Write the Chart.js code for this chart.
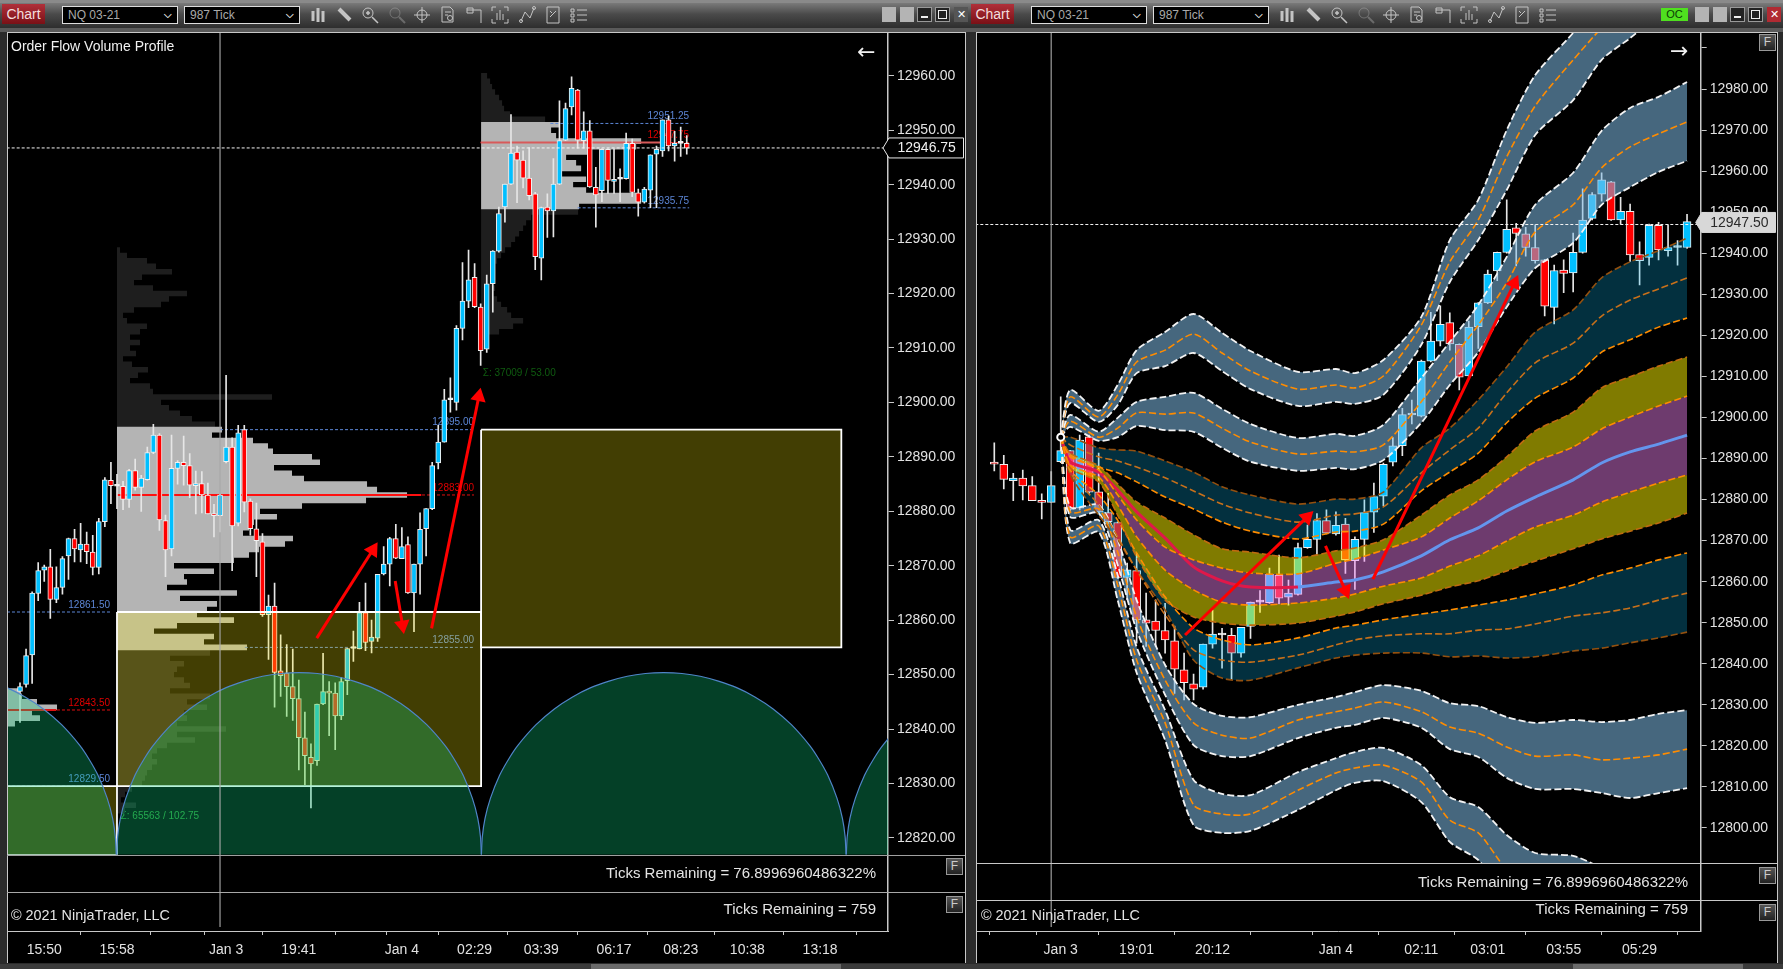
<!DOCTYPE html>
<html>
<head>
<meta charset="utf-8">
<title>Order Flow Volume Profile</title>
<script src="https://cdn.jsdelivr.net/npm/chart.js@4/dist/chart.umd.min.js"></script>
<style>
  html, body { margin: 0; padding: 0; background: #2a2a2a; width: 1783px; height: 969px; overflow: hidden; }
  body, div { font-family: "Liberation Sans", Arial, sans-serif; }
  .abs { position: absolute; white-space: nowrap; }
  .bar { position: absolute; left: 0; right: 0; top: 3px; height: 25px; background: linear-gradient(#7a7a7a, #4a4a4a 45%, #2e2e2e); }
  .panel { position: absolute; background: #000; }
  canvas { position: absolute; display: block; }
  .chartBtn { background: linear-gradient(#b0303a, #7a1016); color: #f2dede; font-size: 14px; line-height: 20px; text-align: center; }
  .drop { background: #000; border: 1px solid #ddd; color: #aaa; font-size: 12px; line-height: 16px; padding-left: 5px; box-sizing: border-box; height: 18px; }
  .drop b { position: absolute; right: 5px; top: 0; color: #ddd; font-size: 10px; }
  .fbtn { width: 15px; height: 15px; border: 1px solid #999; background: linear-gradient(#555, #222); color: #ccc; font-size: 12px; line-height: 15px; text-align: center; }
  .line { background: #c8c8c8; }
  .subText { color: #e4e4e4; font-size: 15px; line-height: 16px; }
  .copyText { color: #e4e4e4; font-size: 14.4px; line-height: 16px; }
</style>
</head>
<body>
<div id="root"></div>
<script>
// left chart: NQ 03-21 987 tick
var leftOpen = [12846.9,12848.2,12853.6,12864.9,12869.2,12869.8,12863.8,12866,12871.8,12875,
  12872.9,12874,12872.5,12869.7,12878.1,12885.7,12884.6,12884.6,12882.2,12887.5,
  12884.4,12885.8,12890.8,12894,12878.3,12873.1,12887.9,12889,12888.4,12884.7,
  12885.1,12883,12879.5,12879.2,12889.1,12891.8,12877.8,12895,12881.9,12876.8,
  12874.4,12861,12862.6,12850.7,12850.3,12847.8,12845.6,12838.4,12834.8,12834.2,
  12844.6,12846.9,12846.6,12842.4,12848.9,12854.8,12854.7,12861.4,12856.1,12856.7,
  12868.5,12870.3,12875,12871.3,12873.9,12865,12870.3,12876.8,12880.5,12888.9,
  12892.7,12900.5,12900,12913.6,12918.6,12923,12917.5,12909.8,12921.8,12927.8,
  12935.9,12940.1,12946,12944.5,12941.2,12938.3,12926.5,12935.9,12935.2,12940.1,
  12948.2,12954.3,12957.4,12948.1,12949.9,12939.5,12938.9,12946.5,12940.6,12941,
  12941.1,12947.6,12938.5,12936.8,12939,12945.6,12946.2,12951.9,12947.1,12947.6,12947.6];
var leftHigh = [12848.5,12854.7,12865.2,12870.6,12870.1,12873,12869.8,12871.7,12875.1,12876.7,
  12877.8,12876.2,12875.6,12878.7,12886.2,12889,12886.8,12885.5,12887.7,12889.6,
  12886.6,12891.8,12896,12894.3,12879.3,12894,12889.3,12893.8,12890.6,12887.4,
  12887.3,12885.2,12881.3,12883.1,12905,12893.5,12895.8,12895.8,12882.3,12881.5,
  12875.9,12864.6,12866.8,12857.3,12855.5,12854.7,12849,12843.1,12837.3,12844.6,
  12853.9,12848.7,12848.5,12849.5,12854.8,12858,12863.3,12866.8,12860,12868.4,
  12873.5,12875.2,12877.6,12877,12875.3,12870.3,12879.7,12880.5,12889,12895.8,
  12902.4,12904.5,12914.1,12925.7,12928,12925.5,12918.1,12923.4,12927.9,12935.9,
  12940.1,12952.9,12947.1,12946.2,12946.8,12938.6,12935.9,12938.3,12944.8,12955.4,
  12955,12959.8,12957.5,12953.4,12951.8,12943.2,12946.6,12946.6,12946.6,12942.9,
  12949.5,12948.4,12939.2,12939.5,12945.5,12947.1,12951.9,12952.6,12949.8,12950.6,12949];
var leftLow = [12841.2,12847.7,12848.4,12863.6,12867.1,12860.3,12863.2,12864.8,12867.5,12870.7,
  12870.7,12870.4,12868.3,12868.5,12877.2,12881.4,12880.5,12880.3,12880.7,12883.9,
  12880,12885.7,12890.6,12876.5,12868,12871.8,12885,12884.8,12882.5,12879.5,
  12879.7,12879.5,12875.3,12876.2,12888.9,12869.1,12877.3,12879.9,12875.6,12868,
  12860.7,12852.8,12844,12846,12842.3,12841.6,12832.5,12829.8,12825.5,12833.3,
  12844.5,12838.8,12836.2,12841.7,12846.3,12852.4,12854.7,12854.4,12854,12856.1,
  12868.3,12866.3,12871.3,12871.3,12864.9,12857.9,12864.8,12871.8,12880.3,12887.8,
  12892.7,12898.2,12898.6,12911.5,12917.4,12917.4,12906.8,12909.2,12916.6,12927.6,
  12933.1,12940,12936.7,12939.4,12937.2,12924.4,12922.5,12930.3,12930.4,12940,
  12948.1,12952.8,12946.7,12946.7,12939.5,12932.2,12936.9,12938.4,12938.4,12936.9,
  12941,12937.8,12934.2,12936.6,12935.8,12935.8,12945.2,12946.2,12944.3,12945.2,12945.6];
var leftClose = [12847.8,12853.5,12865,12869.1,12869.8,12863.8,12866,12871.3,12875,12873.1,
  12874,12872.6,12869.7,12878.1,12885.8,12884.7,12884.6,12882.2,12887.5,12884.4,
  12886.1,12890.8,12894,12878.4,12872.9,12887.9,12889,12888.4,12884.8,12885.1,
  12883,12879.5,12879.2,12883,12891.8,12877.3,12894.4,12881.7,12876.8,12874.6,
  12861,12862.6,12850.4,12849.8,12847.8,12845.6,12838.4,12835.1,12833.6,12844.6,
  12846.9,12846.6,12842.4,12848.7,12854.8,12854.8,12861.4,12855.9,12856.9,12868.4,
  12870.3,12875,12871.4,12873.5,12865,12870.3,12876.7,12880.5,12888.4,12892.7,
  12900.5,12900.5,12913.6,12918.6,12922.5,12917.6,12909.5,12921.8,12927.8,12934.7,
  12940.1,12945.8,12944.5,12941.2,12938,12926.8,12935.8,12935.2,12940.1,12948.1,
  12954,12957.7,12948.2,12949.9,12939.6,12938.1,12946.5,12940.8,12941,12941,
  12947.6,12938.6,12936.8,12939.2,12945.5,12946.5,12951.9,12947.1,12947.6,12947.6,12946.7];

var leftTickPos = [4, 16, 27, 34, 46, 58, 63, 75, 86, 98, 109, 120, 132];
var leftTickLabels = ['15:50', '15:58', '', 'Jan 3', '19:41', '', 'Jan 4', '02:29', '03:39', '06:17', '08:23', '10:38', '13:18'];

// volume profiles, one row per price point, top row first
var profileMainTop = 12928;
var profileMainVolume = [3,10,30,39,55,25,17,36,70,52,44,17,6,10,30,23,13,23,13,19,6,15,31,21,13,33,36,155,44,52,63,75,98,
  105,95,136,151,156,195,203,157,175,187,250,260,290,249,185,143,160,137,132,126,176,168,142,132,117,57,97,67,70,50,120,63,100,90,
  80,117,60,37,97,87,130,
  93,53,67,60,57,67,73,53,93,70,90,67,70,60,109,60,78,50,40,35,40,35,30,28,25,15,8,4,19,8];
var profileNextTop = 12960;
var profileNextVolume = [6,9,11,14,18,21,23,29,64,
  78,70,75,160,155,110,85,95,100,80,105,92,105,155,160,98,
  97,50,45,42,38,34,30,24,20,16,12,14,10,12,14,12,16,20,26,30,42,32,18,6];
var profilePrevTop = 12847;
var profilePrevVolume = [12,15,30,50,25,33,8];

var leftLevelPrices = [12861.5, 12843.5, 12829.5, 12895, 12883, 12855, 12951.25, 12947.75, 12935.75];
var leftLevelFrom = [-2.15, -2.15, -2.15, 33, 16, 37.1, 87.5, 76, 92];
var leftLevelTo = [14.85, 14.85, 14.85, 74.9, 74.9, 74.9, 110.4, 110.4, 110.4];
var leftLevelRed = [false, true, false, false, true, false, false, true, false];

var arcOffsets = [-30.08,-29.93,-29.48,-28.58,-27.07,-25.57,-24.06,-21.06,-18.05,-15.04,-12.03,-9.02,-6.02,-3.01,0,
  3.01,6.02,9.02,12.03,15.04,18.05,21.06,24.06,25.57,27.07,28.58,29.48,29.93,30.08];
var arcPrices = [12816.9,12820.2,12823.6,12827.3,12831.5,12834.5,12837,12840.8,12843.7,12845.9,12847.6,12848.8,12849.7,12850.2,12850.35,
  12850.2,12849.7,12848.8,12847.6,12845.9,12843.7,12840.8,12837,12834.5,12831.5,12827.3,12823.6,12820.2,12816.9];
var arcCenters = [-14.2, 46.04, 106.2, 166.4];

// right chart candles
var rightOpen = [12889.1,12888.6,12884.6,12885.2,12883.4,12879.8,12879.3,12889.2,12891.9,12877.9,
  12895.3,12881.9,12876.8,12874.4,12861,12862.7,12850.7,12850.4,12848.1,12845.6,
  12838.5,12835.1,12834.3,12844.8,12847,12846.9,12842.6,12849.1,12855,12854.9,
  12861.6,12856.2,12856.9,12868.3,12870.3,12874.9,12871.6,12874,12865.1,12870.3,
  12876.9,12880.8,12889.1,12893.1,12900.6,12900.3,12913.7,12918.6,12923.1,12917.8,
  12910.1,12922.1,12927.9,12935.7,12940.2,12946.2,12944.7,12941.4,12938.4,12926.8,
  12935.9,12935.2,12940.2,12948.5,12954.4,12957.4,12948.1,12950.2,12939.7,12939,
  12946.8,12940.6,12941.4,12941.4];
var rightHigh = [12893.8,12890.8,12886.4,12887.2,12885.6,12881.4,12886.8,12905,12892,12895.7,
  12895.7,12891.3,12881.5,12874.6,12864.5,12866.9,12857.2,12855.6,12854.7,12849.2,
  12842.6,12837.5,12844.8,12853.1,12848.6,12848.6,12848.9,12855,12857.8,12863.3,
  12866.5,12860.4,12869.4,12873.8,12876.6,12877.5,12877,12875.4,12870.9,12879.9,
  12884,12888.9,12895.1,12902.2,12904.2,12914,12925.6,12927.2,12925.5,12917.9,
  12923.5,12928,12935.9,12940.3,12953,12947.3,12946.3,12946.9,12938.5,12937.1,
  12938.4,12944.9,12955.7,12954.8,12959.6,12957.5,12953.6,12952,12942.8,12947.1,
  12947.5,12946.9,12943.1,12949.5];
var rightLow = [12887,12882.6,12879.7,12879.9,12879.7,12875.3,12879.3,12889,12877,12877.5,
  12881.5,12876.7,12874.2,12860.8,12855.6,12845,12844.2,12844.2,12842.6,12832.8,
  12831.2,12831.2,12833.8,12843.8,12838.9,12836.2,12841.6,12846.2,12852.5,12854.7,
  12854.6,12854.3,12856.7,12868.1,12866.5,12871.6,12871.3,12862,12858.1,12864.9,
  12872,12878.5,12888.2,12890.7,12898.4,12900.1,12913.5,12917.4,12916.4,12906.7,
  12909.6,12916.8,12927.7,12933.3,12940,12936.9,12939.3,12937.6,12924.7,12922.8,
  12930.4,12930.6,12940,12948.1,12952.7,12948,12947.1,12938,12932.3,12937.1,
  12938.4,12939.3,12937.1,12941.2];
var rightClose = [12888.6,12884.9,12885.2,12883.3,12879.7,12879.3,12883.4,12891.9,12877.6,12894.5,
  12881.8,12877,12874.6,12861,12862.9,12850.7,12849.9,12848.1,12845.8,12838.7,
  12835.4,12833.8,12844.8,12847.2,12847,12842.6,12848.9,12855,12855,12861.8,
  12856,12857.2,12868.3,12870.3,12874.9,12871.8,12873.7,12865.3,12870.3,12876.8,
  12880.7,12888.6,12893.1,12900.7,12900.6,12913.7,12918.6,12922.7,12917.9,12909.8,
  12922,12927.9,12934.9,12940.2,12945.8,12944.8,12941.4,12938.2,12927.1,12935.8,
  12935.1,12940.2,12948.1,12954.3,12957.9,12948.1,12950.2,12939.6,12938.2,12946.8,
  12940.8,12941.4,12941.4,12947.7];

var rightTickPos = [2, 7, 15, 23, 31, 36, 45, 52, 60, 68];
var rightTickLabels = ['', 'Jan 3', '19:01', '20:12', '', 'Jan 4', '02:11', '03:01', '03:55', '05:29'];

// deviation bands on the right, all sampled at the same bar positions
var bandX = [7,8,11,13,15,18,21,24,27,32,36,38,41,45,48,51,54,57,61,64,67,70,73];
var bandA1 = [12895.2,12906.7,12901.6,12907.9,12916.4,12920.8,12925.2,12920.6,12916.2,12911.1,12911.8,12910.8,12914,12924.5,12943.2,12953,12970,12983.4,12993.7,13002.9,13009,13013.9,13018.8];
var bandA2 = [12895.2,12905,12900.1,12905.5,12913.5,12916.4,12920.3,12915.7,12911.3,12906.9,12907.9,12907.2,12910.1,12922.5,12937.9,12948.1,12963.5,12975.9,12987.1,12994.9,13001.7,13007.8,13012.7];
var bandA3 = [12895.2,12903.5,12898.9,12903,12910.8,12912.5,12915.7,12911.3,12906.9,12902.8,12903.8,12903.3,12905.5,12917.7,12933,12943.2,12955.4,12968.8,12977.3,12987.1,12992.4,12998,13002.9];
var bandB1 = [12895.2,12900.6,12896.5,12899.9,12903.8,12905,12906,12902.1,12898.4,12895,12896,12895.5,12898.2,12909.6,12918.4,12927.4,12939.1,12951.8,12959.6,12969.8,12975.4,12978.1,12981.7];
var bandB2 = [12895.2,12899.1,12895.2,12897.4,12901.1,12900.8,12901.1,12897.4,12894,12891.1,12891.8,12891.6,12893.3,12903.8,12913.5,12922.5,12932.8,12945.2,12951.8,12960.8,12965.9,12969.1,12972];
var bandB3 = [12895.2,12897.7,12894.3,12895.2,12897.9,12896.9,12896.5,12892.6,12889.2,12887,12887.7,12887.4,12889.6,12898.7,12907.9,12915.9,12926.9,12936.4,12942.5,12951.8,12956.1,12959.8,12962.5];
var bandC1 = [12895.2,12895.2,12892.6,12892.1,12891.8,12889.4,12886.7,12883.1,12881.1,12878.9,12880.1,12880.1,12881.8,12892.6,12897.4,12904.3,12912.3,12920.8,12926.2,12934,12937.9,12940.6,12943.7];
var bandC2 = [12895.2,12893.3,12890.4,12889.4,12887.9,12885.3,12882.1,12878.9,12876.7,12874.5,12876.2,12876.5,12878.2,12886.5,12892.1,12897.4,12906,12913.3,12918.1,12924.7,12928.6,12931.3,12934];
var bandC3 = [12895.2,12890.4,12887.9,12886.5,12884.3,12880.6,12877.7,12874.5,12872.3,12870.4,12872.1,12872.3,12874,12882.1,12886.7,12891.3,12898.7,12904.7,12909.6,12915.9,12918.9,12922,12924.2];
var bandD1 = [12895.2,12891.3,12888.2,12883.8,12879.4,12875.5,12871.4,12868,12867.2,12865.8,12867.5,12868.2,12870.2,12876.2,12881.1,12884.8,12890.4,12896.7,12901.3,12907.2,12909.9,12912.5,12914.7];
var bandE1 = [12895.2,12890.9,12887.2,12881.1,12875,12868.4,12865.3,12863.3,12862.1,12861.9,12864.5,12865.5,12867.7,12870.9,12875.5,12879.7,12884.8,12889.2,12892.8,12897.2,12900.1,12902.8,12905.2];
var bandMid = [12895.2,12889.2,12886.7,12882.3,12877,12870.6,12863.6,12860.2,12858.7,12858.7,12859.9,12860.4,12862.4,12866.3,12870.2,12873.1,12877.2,12880.6,12884.8,12888.9,12891.6,12893.5,12895.7];
var bandE2 = [12895.2,12888.4,12885.5,12878.7,12870.9,12862.8,12858,12855,12854.3,12854.8,12856,12857,12858.9,12860.9,12863.8,12866.3,12869.9,12873.3,12876.2,12879.4,12881.8,12884,12886];
var bandF2 = [12895.2,12887.7,12884.3,12876.2,12866,12855.5,12851.4,12849.9,12849.4,12849.9,12851.6,12852.6,12854.6,12856.7,12858.7,12860.2,12862.6,12865,12868,12870.4,12872.3,12874.3,12876.7];
var bandG1 = [12895.2,12887.2,12881.1,12875,12867,12856.3,12848.7,12845.8,12844.6,12846.3,12848.7,12849.4,12850.7,12852.1,12853.1,12854.3,12855.5,12857,12859.2,12861.6,12863.3,12865.3,12867];
var bandG2 = [12895.2,12886.7,12878.7,12870.9,12862.8,12851.9,12843.4,12840.9,12840.4,12842.1,12844.6,12845.8,12846.8,12847.3,12847.3,12848.2,12848.5,12849.7,12851.6,12852.4,12853.6,12855.5,12857.2];
var bandG3 = [12895.2,12886,12876.2,12870.2,12862.8,12853.1,12840.9,12836.5,12836,12839,12841.4,12842.1,12842.6,12842.6,12841.7,12841.9,12841.4,12841.7,12843.1,12843.8,12845.1,12846.3,12847.7];
var bandH1 = [12895.2,12878.2,12878.7,12870.2,12855.5,12839.7,12830.2,12827.3,12827,12830,12831.9,12833.1,12834.8,12833.4,12830.4,12829.7,12827,12825.6,12826.3,12825.8,12826.3,12827.8,12828.7];
var bandH2 = [12895.2,12877,12877.7,12867.2,12851.4,12836,12825.6,12822.6,12821.9,12826.3,12828.3,12829.2,12830.7,12828.3,12824.6,12823.1,12819.7,12817.5,12817.8,12816.6,12817,12817.8,12819.2];
var bandH3 = [12895.2,12875.8,12876.7,12864.1,12848.2,12832.4,12820.2,12817.5,12817.5,12821.9,12824.4,12825.1,12826.8,12824.4,12819.2,12817.3,12812.2,12809.5,12809.5,12808.5,12807.3,12808.5,12809.7];
var bandI1 = [12895.2,12872.6,12875,12861.6,12844.1,12828.7,12811.7,12808.3,12808,12813.6,12817,12818.5,12819.5,12815.3,12807.5,12805.1,12798.3,12793.9,12793.2,12790.2,12786.1,12782.5,12778.8];
var bandI2 = [12895.2,12870.9,12873.6,12859.2,12840.9,12825.6,12805.6,12803.4,12803.4,12809.2,12813.4,12814.6,12815.3,12811.2,12801.9,12798.8,12789.8,12784.9,12781.2,12777.6,12772.7,12769.1,12765.4];
var bandI3 = [12895.2,12869.4,12872.1,12855.5,12837.8,12821.4,12800.7,12798.8,12799.3,12804.4,12809.2,12811,12811.4,12806.3,12796.6,12792.2,12783.7,12778.8,12776.4,12771.5,12767.8,12763,12760.5];

var WHITE_DASH = '#f2f2f2';
var ORANGE = '#ff8c00';
var BROWN = '#94500f';
var STEEL_FILL = 'rgba(127,187,229,0.55)';
var TEAL_FILL = 'rgba(10,190,250,0.25)';
var OLIVE_FILL = 'rgba(255,245,0,0.5)';
var PURPLE_FILL = 'rgba(245,130,245,0.45)';
var RECT_FILL = 'rgba(255,240,10,0.26)';
var ARC_FILL = 'rgba(13,213,130,0.3)';
var BLUE_TEXT = '#5c86d6';
var RED_TEXT = '#e00000';

Chart.defaults.font.family = '"Liberation Sans", Arial, sans-serif';

function candleDatasets(open, high, low, close, bodyWidth) {
  var wicks = [], bodies = [], fills = [];
  for (var i = 0; i < open.length; i++) {
    wicks.push({ x: i, y: [low[i], high[i]] });
    bodies.push({ x: i, y: [open[i], close[i]] });
    fills.push(close[i] > open[i] ? '#00bfff' : close[i] < open[i] ? '#ff0000' : '#ffffff');
  }
  return [
    { type: 'bar', data: wicks, barThickness: 1, backgroundColor: '#e6e6e6', grouped: false, order: 40 },
    { type: 'bar', data: bodies, barThickness: bodyWidth, backgroundColor: fills, borderColor: '#f0f0f0',
      borderWidth: 1, borderSkipped: false, minBarLength: 2, grouped: false, order: 39 },
  ];
}

function lineSet(points, color, width, dash, order, extra) {
  var ds = { type: 'line', data: points, borderColor: color, borderWidth: width, borderDash: dash || [],
    pointRadius: 0, fill: false, tension: 0, spanGaps: false, order: order, borderCapStyle: 'butt' };
  for (var k in (extra || {})) ds[k] = extra[k];
  return ds;
}

function hline(price, from, to, color, width, dash, order) {
  return lineSet([{ x: from, y: price }, { x: to, y: price }], color, width, dash, order);
}

// rows of a volume profile as one broken line per colour
function profileRows(top, volume, baseX, unit, isBright) {
  var dim = [], bright = [];
  for (var i = 0; i < volume.length; i++) {
    var price = top - i;
    var target = isBright(price) ? bright : dim;
    target.push({ x: baseX, y: price }, { x: baseX + volume[i] * unit, y: price }, { x: baseX, y: null });
  }
  return [lineSet(dim, '#1e1e1e', 5.6, null, 50), lineSet(bright, '#b4b4b4', 5.6, null, 49)];
}

function rectSets(x0, x1, top, bottom) {
  return [
    lineSet([{ x: x0, y: top }, { x: x1, y: top }], 'transparent', 0, null, 30,
      { fill: { value: bottom }, backgroundColor: RECT_FILL }),
    lineSet([{ x: x0, y: top }, { x: x1, y: top }, { x: x1, y: bottom }, { x: x0, y: bottom }, { x: x0, y: top }],
      '#ffffff', 1.8, null, 29),
  ];
}

function arrowSet(fromX, fromY, toX, toY, angle) {
  return lineSet([{ x: fromX, y: fromY }, { x: toX, y: toY }], '#ff0000', 3, null, 8, {
    pointStyle: 'triangle', pointRadius: [0, 9], pointRotation: [0, angle],
    pointBackgroundColor: '#ff0000', pointBorderColor: '#ff0000', pointBorderWidth: 0,
  });
}

function bandPoints(values) {
  var pts = [];
  for (var i = 0; i < bandX.length; i++) pts.push({ x: bandX[i], y: values[i] });
  return pts;
}

function bandLine(values, color, width, dash, extra) {
  var opts = { tension: 0.25 };
  for (var k in (extra || {})) opts[k] = extra[k];
  return lineSet(bandPoints(values), color, width, dash, 20, opts);
}

// fill only, drawn under every band line
function bandFill(values, targetIndex, fillColor) {
  return lineSet(bandPoints(values), 'transparent', 0, null, 22,
    { tension: 0.25, fill: targetIndex, backgroundColor: fillColor });
}

function panelPlugin(cfg) {
  return {
    id: 'panelParts',
    beforeDatasetsDraw: function (chart) {
      var ctx = chart.ctx, a = chart.chartArea, sx = chart.scales.x, sy = chart.scales.y;
      ctx.save();
      ctx.textBaseline = 'middle';
      ctx.font = '10px "Liberation Sans", Arial, sans-serif';
      (cfg.labels || []).forEach(function (l) {
        ctx.textAlign = l.align;
        ctx.fillStyle = l.color;
        ctx.fillText(l.text, sx.getPixelForValue(l.x), sy.getPixelForValue(l.y) + (l.dy || 0));
      });
      ctx.restore();
      ctx.save();
      ctx.beginPath();
      ctx.rect(a.left, a.top, a.right - a.left, sy.getPixelForValue(cfg.floor) - a.top);
      ctx.clip();
    },
    afterDatasetsDraw: function (chart) {
      var ctx = chart.ctx, a = chart.chartArea, x = chart.scales.x.getPixelForValue(cfg.crossX);
      ctx.restore();
      ctx.save();
      ctx.strokeStyle = 'rgba(170,170,170,0.75)';
      ctx.lineWidth = 1.5;
      ctx.beginPath();
      ctx.moveTo(x, a.top);
      ctx.lineTo(x, a.bottom - 4);
      ctx.stroke();
      ctx.restore();
    },
    afterDraw: function (chart) {
      var ctx = chart.ctx, a = chart.chartArea;
      var y = chart.scales.y.getPixelForValue(cfg.flag.price);
      var right = chart.width - 1.5;
      ctx.save();
      ctx.beginPath();
      ctx.moveTo(a.right - 5, y);
      ctx.lineTo(a.right + 1, y - 10);
      ctx.lineTo(right, y - 10);
      ctx.lineTo(right, y + 10);
      ctx.lineTo(a.right + 1, y + 10);
      ctx.closePath();
      ctx.fillStyle = cfg.flag.fill;
      ctx.fill();
      ctx.strokeStyle = cfg.flag.stroke;
      ctx.stroke();
      ctx.fillStyle = cfg.flag.text;
      ctx.font = '14px "Liberation Sans", Arial, sans-serif';
      ctx.textAlign = 'left';
      ctx.textBaseline = 'middle';
      ctx.fillText(cfg.flag.price.toFixed(2), a.right + 9.5, y + 0.5);
      ctx.restore();
    },
  };
}

function buildChart(canvas, cfg, datasets) {
  return new Chart(canvas, {
    data: { datasets: datasets },
    plugins: [panelPlugin(cfg)],
    options: {
      responsive: false,
      animation: false,
      events: [],
      devicePixelRatio: 1,
      layout: { padding: 0, autoPadding: false },
      plugins: { legend: { display: false }, tooltip: { enabled: false } },
      scales: {
        x: {
          type: 'linear', position: 'bottom', min: cfg.xMin, max: cfg.xMax, offset: false,
          afterBuildTicks: function (scale) {
            scale.ticks = cfg.tickPos.map(function (v) { return { value: v }; });
          },
          afterFit: function (scale) {
            scale.height = 32;
            scale.paddingLeft = scale.paddingRight = 0;
          },
          ticks: {
            autoSkip: false, maxRotation: 0, minRotation: 0, color: '#e2e2e2', padding: 7, font: { size: 14 },
            callback: function (v, i) { return cfg.tickLabels[i]; },
          },
          grid: { drawOnChartArea: false, drawTicks: true, tickLength: 4, tickColor: '#c8c8c8' },
          border: { display: true, color: '#c8c8c8', width: 1 },
        },
        y: {
          type: 'linear', position: 'right', min: cfg.yMin, max: cfg.yMax,
          afterBuildTicks: function (scale) {
            scale.ticks = scale.ticks.filter(function (t) {
              return t.value % 10 === 0 && t.value >= cfg.tickMin && t.value <= cfg.tickMax;
            });
          },
          afterFit: function (scale) {
            scale.width = cfg.axisWidth;
            scale.paddingTop = scale.paddingBottom = 0;
          },
          ticks: {
            stepSize: 10, includeBounds: false, autoSkip: false, color: '#e2e2e2', padding: 3, font: { size: 14 },
            callback: function (v) { return v >= 12990 ? '' : v.toFixed(2); },
          },
          grid: { drawOnChartArea: false, drawTicks: true, tickLength: 6, tickColor: '#c8c8c8' },
          border: { display: true, color: '#c8c8c8', width: 1.5 },
        },
      },
    },
  });
}

// ---- left chart datasets
function leftDatasets() {
  var sets = candleDatasets(leftOpen, leftHigh, leftLow, leftClose, 5);
  var unit = 1 / 6.06;
  sets = sets.concat(profileRows(profileMainTop, profileMainVolume, 16, unit, function (p) { return p <= 12895 && p >= 12855; }));
  sets = sets.concat(profileRows(profileNextTop, profileNextVolume, 76.07, unit, function (p) { return p <= 12951.25 && p >= 12936; }));
  sets = sets.concat(profileRows(profilePrevTop, profilePrevVolume, -2.15, unit, function () { return true; }));
  for (var i = 0; i < leftLevelPrices.length; i++) {
    sets.push(hline(leftLevelPrices[i], leftLevelFrom[i], leftLevelTo[i], leftLevelRed[i] ? '#e01010' : '#5c86d6', 1, [3, 2], 45));
  }
  sets.push(hline(12883, 16, 66.2, '#ff1010', 2, null, 44));
  sets.push(hline(12947.75, 76, 105.6, '#d85a5a', 2, null, 44));
  sets.push(hline(12843.5, -2.15, 6, '#e01010', 2, null, 44));
  sets = sets.concat(rectSets(16, 76.07, 12861.5, 12829.5));
  sets = sets.concat(rectSets(76.07, 135.5, 12895, 12855));
  sets = sets.concat(rectSets(-2.15, 16, 12829.5, 12816.9));
  arcCenters.forEach(function (c) {
    var pts = arcOffsets.map(function (o, i) { return { x: c + o, y: arcPrices[i] }; });
    sets.push(lineSet(pts, '#4f85c8', 1.2, null, 25, { tension: 0.2, fill: { value: 12816.9 }, backgroundColor: ARC_FILL }));
  });
  sets.push(hline(12946.75, -2.2, 143.3, '#f4f4f4', 1, [3, 2], 12));
  sets.push(arrowSet(48.96, 12856.7, 58.2, 12872.9, 32.5));
  sets.push(arrowSet(61.9, 12867.2, 63.1, 12859.1, 170.8));
  sets.push(arrowSet(67.9, 12858.5, 75.7, 12901.1, 11.5));
  return sets;
}

var leftLabels = [];
(function () {
  for (var i = 0; i < leftLevelPrices.length; i++) {
    leftLabels.push({ text: leftLevelPrices[i].toFixed(2), x: leftLevelTo[i], y: leftLevelPrices[i], dy: -7,
      align: 'right', color: leftLevelRed[i] ? RED_TEXT : BLUE_TEXT });
  }
  leftLabels.push({ text: '\u03A3: 37009 / 53.00', x: 76.35, y: 12905.4, align: 'left', color: '#0f5c10' });
  leftLabels.push({ text: '\u03A3: 65563 / 102.75', x: 16.6, y: 12824, align: 'left', color: '#2e9a3a' });
})();

// ---- right chart datasets
function rightDatasets() {
  var sets = candleDatasets(rightOpen, rightHigh, rightLow, rightClose, 8);
  var base = sets.length;
  var dash = [7, 3];
  var lines = [
    [bandA1, WHITE_DASH, 1.8], [bandA2, ORANGE, 1.6], [bandA3, WHITE_DASH, 1.8],
    [bandB1, WHITE_DASH, 1.8], [bandB2, ORANGE, 1.6], [bandB3, WHITE_DASH, 1.8],
    [bandC1, BROWN, 1.6], [bandC2, '#c8701a', 1.6], [bandC3, ORANGE, 1.6],
    [bandD1, '#c06a10', 1.6], [bandE1, ORANGE, 1.6], [bandE2, ORANGE, 1.6], [bandF2, '#c06a10', 1.6],
    [bandG1, ORANGE, 1.6], [bandG2, '#c8701a', 1.6], [bandG3, BROWN, 1.6],
    [bandH1, WHITE_DASH, 1.8], [bandH2, ORANGE, 1.6], [bandH3, WHITE_DASH, 1.8],
    [bandI1, WHITE_DASH, 1.8], [bandI2, ORANGE, 1.6], [bandI3, WHITE_DASH, 1.8],
  ];
  lines.forEach(function (l) { sets.push(bandLine(l[0], l[1], l[2], dash)); });
  function at(offset) { return base + offset; }
  sets.push(bandFill(bandA1, at(2), STEEL_FILL));
  sets.push(bandFill(bandB1, at(5), STEEL_FILL));
  sets.push(bandFill(bandC1, at(8), TEAL_FILL));
  sets.push(bandFill(bandD1, at(10), OLIVE_FILL));
  sets.push(bandFill(bandE1, at(11), PURPLE_FILL));
  sets.push(bandFill(bandE2, at(12), OLIVE_FILL));
  sets.push(bandFill(bandG1, at(15), TEAL_FILL));
  sets.push(bandFill(bandH1, at(18), STEEL_FILL));
  sets.push(bandFill(bandI1, at(21), STEEL_FILL));
  sets.push(bandLine(bandMid, '#e0184a', 3, null, {
    segment: { borderColor: function (ctx) { return ctx.p0.parsed.x < 28 ? '#e0184a' : '#6495ed'; } },
  }));
  sets.push(hline(12947, -2, 74.5, '#f4f4f4', 1, [3, 2], 12));
  sets.push(lineSet([{ x: 7, y: 12895.2 }], '#ffffff', 2, null, 5, {
    pointRadius: 3.5, pointBackgroundColor: '#000', pointBorderColor: '#fff', pointBorderWidth: 2,
  }));
  sets.push(arrowSet(20.1, 12847, 32.95, 12875.7, 46));
  sets.push(arrowSet(34.9, 12868.7, 37, 12857.8, 157));
  sets.push(arrowSet(39.9, 12860.6, 54.8, 12932.7, 25.4));
  return sets;
}

// ---- page chrome
var root = document.getElementById('root');

function box(cls, x, y, w, h, text, css) {
  var el = document.createElement('div');
  el.className = 'abs ' + cls;
  el.style.left = x + 'px';
  el.style.top = y + 'px';
  if (w !== null) el.style.width = w + 'px';
  if (h !== null) el.style.height = h + 'px';
  if (text) el.textContent = text;
  for (var k in (css || {})) el.style[k] = css[k];
  root.appendChild(el);
  return el;
}

var ICONS = [
  '<path d="M3 5v10M8 2v14M13 5v11" stroke-width="3"/>',
  '<path d="M3 3l11 11" stroke-width="4"/>',
  '<circle cx="7" cy="7" r="5"/><path d="M11 11l6 6M5 7h4M7 5v4" stroke-width="1.5"/>',
  '<circle cx="7" cy="7" r="5" opacity=".35"/><path d="M11 11l6 6" opacity=".35" stroke-width="2"/>',
  '<circle cx="9" cy="9" r="5"/><path d="M9 1v16M1 9h16"/>',
  '<path d="M3 1h8l3 3v12H3zM6 6h6M6 9h3"/><circle cx="11" cy="12" r="2.5"/>',
  '<path d="M2 2v5h6V2zM2 4h14v13" />',
  '<path d="M1 5V1h4M13 1h4v4M1 13v4h4M13 17h4v-4M6 14V7M9 14V4M12 14V8" />',
  '<path d="M3 15l4-9 5 6 4-10"/><circle cx="3" cy="15" r="1.5"/><circle cx="16" cy="2" r="1.5"/>',
  '<path d="M3 1h12v16H3zM6 11l6-6M6 5l2 2" />',
  '<path d="M1 3h3v3H1zM1 8h3v3H1zM1 13h3v3H1zM7 4h10M7 9h10M7 14h10" />',
];
var ICON_X = [319, 345, 370, 397, 422, 448, 474, 500, 527, 553, 579];

function buildToolbar(dx) {
  box('chartBtn', dx + 2, 4, 43, 20, 'Chart');
  box('drop', dx + 62, 6, 116, 18, 'NQ 03-21').innerHTML += '<b>&#9013;</b>';
  box('drop', dx + 184, 6, 116, 18, '987 Tick').innerHTML += '<b>&#9013;</b>';
  for (var i = 0; i < ICONS.length; i++) {
    var el = box('', dx + ICON_X[i] - 9, 6, 18, 18);
    el.innerHTML = '<svg width="18" height="18" viewBox="0 0 18 18" fill="none" stroke="#c4c4c4" stroke-width="1">' + ICONS[i] + '</svg>';
  }
}

function windowButtons(dx, closeColor) {
  box('', dx + 0, 7, 14, 15, '', { background: '#b4b4b4' });
  box('', dx + 18, 7, 14, 15, '', { background: '#b4b4b4' });
  box('', dx + 35, 7, 15, 15, '', { background: '#222', border: '1px solid #999', boxSizing: 'border-box' });
  box('', dx + 39, 16, 7, 2, '', { background: '#eee' });
  box('', dx + 53, 7, 15, 15, '', { background: '#222', border: '1px solid #999', boxSizing: 'border-box' });
  box('', dx + 56, 10, 9, 9, '', { border: '1px solid #eee', boxSizing: 'border-box' });
  box('', dx + 72, 7, 14, 15, '\u2715', { background: closeColor, color: '#fff', fontSize: '11px', lineHeight: '15px', textAlign: 'center' });
}

box('bar', 0, 3, null, null);
box('', 0, 0, 1783, 3, '', { background: '#8a8a8a' });
box('', 0, 28, 1783, 4, '', { background: '#5a5a5a' });
buildToolbar(0);
buildToolbar(969);
windowButtons(882, '#555');
windowButtons(1695, '#b02a32');
box('', 1661, 8, 27, 13, 'OC', { background: '#4fe01f', color: '#0b3c06', fontSize: '11px', lineHeight: '13px', textAlign: 'center' });

box('panel', 7, 32, 958, 931, '');
box('panel', 976, 32, 801, 931, '');

var leftCanvas = document.createElement('canvas');
leftCanvas.width = 958; leftCanvas.height = 931;
leftCanvas.style.left = '7px'; leftCanvas.style.top = '32px';
root.appendChild(leftCanvas);

var rightCanvas = document.createElement('canvas');
rightCanvas.width = 801; rightCanvas.height = 931;
rightCanvas.style.left = '976px'; rightCanvas.style.top = '32px';
root.appendChild(rightCanvas);

buildChart(leftCanvas, {
  xMin: -2.145, xMax: 143.2, yMin: 12802.9, yMax: 12968.05, floor: 12816.9, axisWidth: 77,
  tickPos: leftTickPos, tickLabels: leftTickLabels, tickMin: 12820, tickMax: 12960, crossX: 33,
  labels: leftLabels,
  flag: { price: 12946.75, fill: '#000', stroke: '#e8e8e8', text: '#f0f0f0' },
}, leftDatasets());

buildChart(rightCanvas, {
  xMin: -1.928, xMax: 74.44, yMin: 12774.9, yMax: 12993.89, floor: 12791.4, axisWidth: 76.3,
  tickPos: rightTickPos, tickLabels: rightTickLabels, tickMin: 12800, tickMax: 12990, crossX: 6,
  labels: [],
  flag: { price: 12947.5, fill: '#d8d8d8', stroke: '#d8d8d8', text: '#2a2a2a' },
}, rightDatasets());

// borders, sub panels and their text sit over the canvases
box('line', 7, 32, 958, 1);
box('line', 976, 32, 801, 1);
box('line', 7, 32, 1, 931);
box('line', 976, 32, 1, 931);
box('line', 965, 32, 1, 931);
box('line', 1777, 32, 1, 931);
box('line', 7, 855, 958, 1, '', { background: '#a0a0a0' });
box('line', 7, 892, 958, 1, '', { background: '#a8a8a8' });
box('line', 976, 863, 801, 1);
box('line', 976, 900, 801, 1);

box('', 11, 37, null, null, 'Order Flow Volume Profile', { color: '#f0f0f0', fontSize: '14px', lineHeight: '18px' });
box('', 857, 39, null, null, '\u2190', { color: '#f0f0f0', fontSize: '22px', lineHeight: '26px', fontFamily: '"DejaVu Sans"' });
box('', 1670, 38, null, null, '\u2192', { color: '#f0f0f0', fontSize: '22px', lineHeight: '26px', fontFamily: '"DejaVu Sans"' });

box('copyText', 11, 907, null, null, '\u00A9 2021 NinjaTrader, LLC');
box('copyText', 981, 907, null, null, '\u00A9 2021 NinjaTrader, LLC');
box('subText', 576, 865, 300, null, 'Ticks Remaining = 76.8996960486322%', { textAlign: 'right' });
box('subText', 576, 901, 300, null, 'Ticks Remaining = 759', { textAlign: 'right' });
box('subText', 1388, 874, 300, null, 'Ticks Remaining = 76.8996960486322%', { textAlign: 'right' });
box('subText', 1388, 901, 300, null, 'Ticks Remaining = 759', { textAlign: 'right' });

box('fbtn', 946, 858, null, null, 'F');
box('fbtn', 946, 896, null, null, 'F');
box('fbtn', 1759, 34, null, null, 'F');
box('fbtn', 1759, 867, null, null, 'F');
box('fbtn', 1759, 904, null, null, 'F');

// scroll bars along the bottom edge
box('', 0, 964, 1783, 5, '', { background: '#3b3b3b' });
box('', 591, 964, 250, 5, '', { background: '#6a6a6a' });
box('', 1573, 964, 170, 5, '', { background: '#6a6a6a' });
</script>
</body>
</html>
